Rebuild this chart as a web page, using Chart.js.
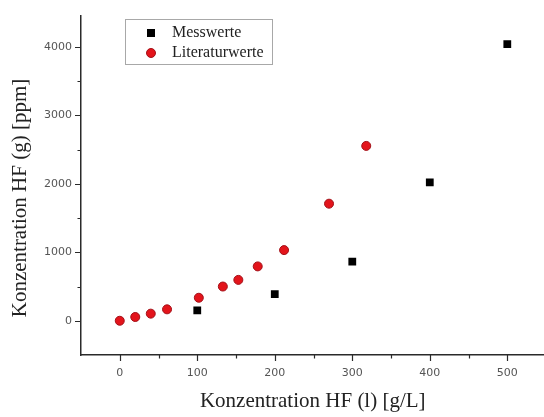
<!DOCTYPE html>
<html>
<head>
  <meta charset="utf-8">
  <title>Konzentration HF</title>
  <script src="https://cdn.jsdelivr.net/npm/chart.js@4.4.0/dist/chart.umd.min.js"></script>
  <style>
    html, body {
      margin: 0;
      background: white;
      overflow: hidden;
    }
    /* a little wider than the window so the x axis runs to the right edge
       (Chart.js keeps point-radius padding on the right) */
    .chart-box {
      width: 550px;
      height: 417px;
    }
  </style>
</head>
<body>
  <div class="chart-box">
    <canvas id="hfChart"></canvas>
  </div>

  <script>
    // measured values: HF in liquid [g/L] vs HF in gas [ppm]
    const messX = [100, 200, 300, 400, 500];
    const messY = [152, 388, 865, 2020, 4040];

    // literature values
    const litX = [0, 20, 40, 61, 102, 133, 153, 178, 212, 270, 318];
    const litY = [0, 55, 104, 167, 336, 500, 597, 794, 1032, 1710, 2554];

    const xMajor = [0, 100, 200, 300, 400, 500];
    const xMinor = [50, 150, 250, 350, 450];
    const yMajor = [0, 1000, 2000, 3000, 4000];
    const yMinor = [500, 1500, 2500, 3500];

    const seriesNames = ["Messwerte", "Literaturwerte"];
    const xTitle = "Konzentration HF (l) [g/L]";
    const yTitle = "Konzentration HF (g) [ppm]";

    const serif = "'Liberation Serif', 'Times New Roman', serif";
    const axisColor = "#2a2a2a";
    const redFill = "#e3141b";
    const redEdge = "#a31018";

    function toPoints(xs, ys) {
      return xs.map((x, i) => ({ x: x, y: ys[i] }));
    }

    // outward tick marks, y title and the boxed legend inside the plot
    const decorations = {
      id: "decorations",
      afterDraw(chart) {
        const ctx = chart.ctx;
        const xs = chart.scales.x;
        const ys = chart.scales.y;
        const area = chart.chartArea;

        ctx.save();
        ctx.strokeStyle = axisColor;
        ctx.lineWidth = 1.2;
        ctx.beginPath();
        xMajor.forEach((v) => {
          const px = Math.round(xs.getPixelForValue(v)) + 0.5;
          ctx.moveTo(px, area.bottom);
          ctx.lineTo(px, area.bottom + 6);
        });
        xMinor.forEach((v) => {
          const px = Math.round(xs.getPixelForValue(v)) + 0.5;
          ctx.moveTo(px, area.bottom);
          ctx.lineTo(px, area.bottom + 3.5);
        });
        yMajor.forEach((v) => {
          const py = Math.round(ys.getPixelForValue(v)) + 0.5;
          ctx.moveTo(area.left, py);
          ctx.lineTo(area.left - 6, py);
        });
        yMinor.forEach((v) => {
          const py = Math.round(ys.getPixelForValue(v)) + 0.5;
          ctx.moveTo(area.left, py);
          ctx.lineTo(area.left - 3.5, py);
        });
        ctx.stroke();

        // y axis title
        ctx.fillStyle = "#222";
        ctx.font = "21px " + serif;
        ctx.textAlign = "center";
        ctx.textBaseline = "middle";
        ctx.translate(20, 198);
        ctx.rotate(-Math.PI / 2);
        ctx.fillText(yTitle, 0, 0);
        ctx.restore();

        // legend
        ctx.save();
        ctx.strokeStyle = "#a8a8a8";
        ctx.lineWidth = 1;
        ctx.strokeRect(125.5, 19.5, 147, 45);

        ctx.fillStyle = "#000";
        ctx.fillRect(147, 29, 8, 8);

        ctx.beginPath();
        ctx.arc(151, 53, 4.5, 0, Math.PI * 2);
        ctx.fillStyle = redFill;
        ctx.fill();
        ctx.strokeStyle = redEdge;
        ctx.stroke();

        ctx.fillStyle = "#222";
        ctx.font = "16px " + serif;
        ctx.textAlign = "left";
        ctx.textBaseline = "middle";
        ctx.fillText(seriesNames[0], 172, 33);
        ctx.fillText(seriesNames[1], 172, 53);
        ctx.restore();
      }
    };

    const config = {
      type: "scatter",
      data: {
        datasets: [
          {
            label: seriesNames[0],
            data: toPoints(messX, messY),
            pointStyle: "rect",
            pointRadius: 5.5,
            pointHoverRadius: 5.5,
            backgroundColor: "#000",
            borderColor: "#000",
            borderWidth: 0
          },
          {
            label: seriesNames[1],
            data: toPoints(litX, litY),
            pointStyle: "circle",
            pointRadius: 4.5,
            pointHoverRadius: 4.5,
            backgroundColor: redFill,
            borderColor: redEdge,
            borderWidth: 1
          }
        ]
      },
      options: {
        responsive: true,
        maintainAspectRatio: false,
        animation: false,
        layout: {
          padding: { top: 13, left: 0, right: 0, bottom: 0 }
        },
        plugins: {
          legend: { display: false },
          tooltip: { enabled: false }
        },
        scales: {
          x: {
            type: "linear",
            min: -50,
            max: 548,
            afterFit: (s) => { s.height = 62; },
            afterBuildTicks: (s) => { s.ticks = xMajor.map((v) => ({ value: v })); },
            grid: { display: false, drawTicks: false },
            border: { display: true, color: axisColor, width: 1.5 },
            ticks: {
              padding: 12,
              color: "#555",
              font: { family: "'DejaVu Sans', sans-serif", size: 11 },
              callback: (v) => String(v)
            },
            title: {
              display: true,
              text: xTitle,
              color: "#222",
              font: { family: serif, size: 21 },
              padding: { top: 0, bottom: 3 }
            }
          },
          y: {
            type: "linear",
            min: -500,
            max: 4457,
            afterFit: (s) => { s.width = 81; },
            afterBuildTicks: (s) => { s.ticks = yMajor.map((v) => ({ value: v })); },
            grid: { display: false, drawTicks: false },
            border: { display: true, color: axisColor, width: 1.5 },
            ticks: {
              padding: 9,
              color: "#555",
              font: { family: "'DejaVu Sans', sans-serif", size: 11 },
              callback: (v) => String(v)
            }
          }
        }
      },
      plugins: [decorations]
    };

    const hfChart = new Chart(document.getElementById("hfChart"), config);
  </script>
</body>
</html>
